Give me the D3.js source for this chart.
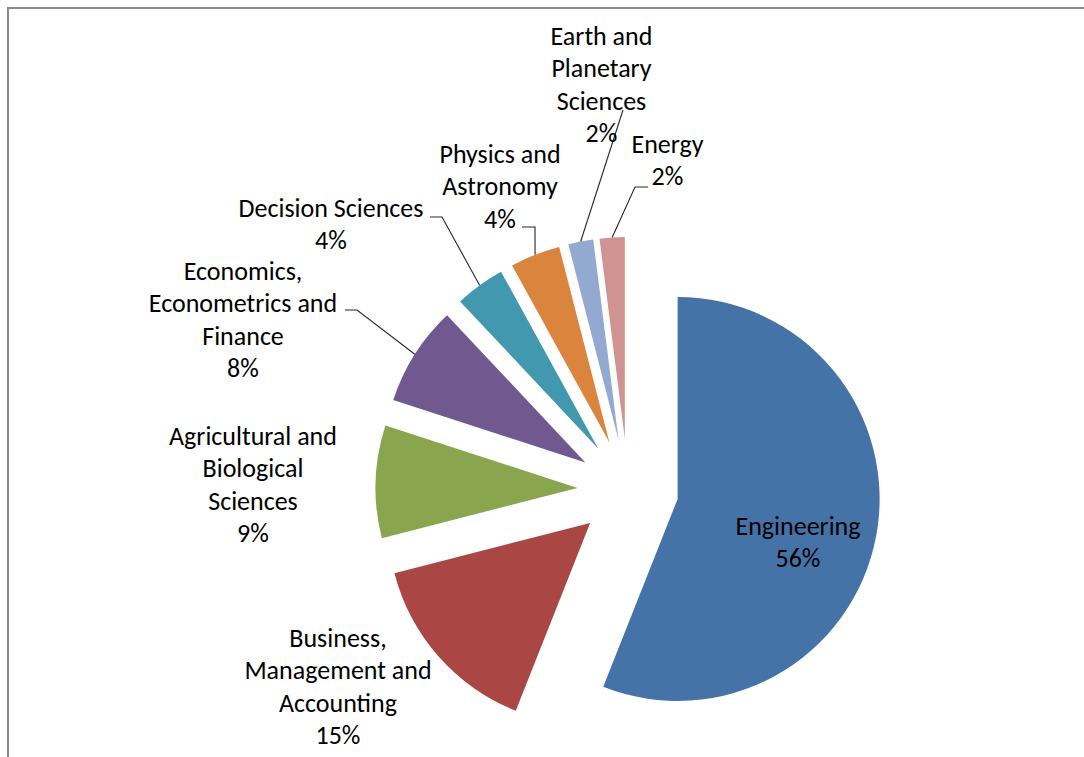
<!DOCTYPE html>
<html>
<head>
<meta charset="utf-8">
<script src="https://cdn.jsdelivr.net/npm/d3@7/dist/d3.min.js"></script>
<style>
  html, body { margin: 0; padding: 0; background: #fff; }
  svg { display: block; }
  text { font-family: Carlito, Calibri, Lato, "Open Sans", sans-serif; fill: #000; }
</style>
</head>
<body>
<svg id="chart" width="1084" height="757"></svg>
<script>
// Subject areas and their share of publications (%)
const categories = [
  "Engineering",
  "Business, Management and Accounting",
  "Agricultural and Biological Sciences",
  "Economics, Econometrics and Finance",
  "Decision Sciences",
  "Physics and Astronomy",
  "Earth and Planetary Sciences",
  "Energy"
];
const shares = [56, 15, 9, 8, 4, 4, 2, 2];

// How each category name is broken over lines in its label
const labelLines = [
  ["Engineering"],
  ["Business,", "Management and", "Accounting"],
  ["Agricultural and", "Biological", "Sciences"],
  ["Economics,", "Econometrics and", "Finance"],
  ["Decision Sciences"],
  ["Physics and", "Astronomy"],
  ["Earth and", "Planetary", "Sciences"],
  ["Energy"]
];

const colors = ["#4572A7", "#AA4643", "#89A54E", "#71588F", "#4198AF", "#DB843D", "#93A9CF", "#D19392"];

// Label placement: centre x and first baseline of each label block
const labelAnchors = [
  [798, 535], [338, 647], [253, 445], [243, 280],
  [331, 217], [500, 163], [601.5, 45], [667.5, 153]
];
// Leader lines: elbow point, then horizontal run to the label edge
const leaders = [
  null, null, null,
  { elbow: [357, 310], end: [345, 310] },
  { elbow: [442, 217], end: [430, 217] },
  { elbow: [535, 227], end: [522, 227] },
  { elbow: [623, 110], end: [623, 110] },
  { elbow: [635, 187], end: [648, 187] }
];

const width = 1084, height = 757;
const cx = 628, cy = 489.5;
const radius = 202;
const explode = 0.25 * radius;
const lineHeight = 32.3;
const fontSize = 26;

const svg = d3.select("#chart");

// Chart frame (only top and left edges are inside the view)
svg.append("path")
  .attr("d", `M8,${height} L8,8 L${width},8`)
  .attr("fill", "none")
  .attr("stroke", "#8a8a8a")
  .attr("stroke-width", 2);

const data = categories.map((c, i) => ({ name: c, share: shares[i], i }));

const pie = d3.pie()
  .sort(null)
  .value(d => d.share)
  .startAngle(0)
  .endAngle(2 * Math.PI);

const arc = d3.arc().innerRadius(0).outerRadius(radius);

const arcs = pie(data);

// Offset of each exploded slice along its bisector
function offset(a, dist) {
  const mid = (a.startAngle + a.endAngle) / 2;
  return [Math.sin(mid) * dist, -Math.cos(mid) * dist];
}

const g = svg.append("g").attr("transform", `translate(${cx},${cy})`);

g.selectAll("path.slice")
  .data(arcs)
  .join("path")
  .attr("class", "slice")
  .attr("transform", d => { const o = offset(d, explode); return `translate(${o[0]},${o[1]})`; })
  .attr("d", arc)
  .attr("fill", d => colors[d.data.i]);

// Leader lines from the middle of each slice's outer edge
const leaderGroup = svg.append("g");
arcs.forEach(a => {
  const L = leaders[a.data.i];
  if (!L) return;
  const o = offset(a, explode);
  const edge = offset(a, radius);
  const start = [cx + o[0] + edge[0], cy + o[1] + edge[1]];
  leaderGroup.append("polyline")
    .attr("points", [start, L.elbow, L.end].map(p => p.join(",")).join(" "))
    .attr("fill", "none")
    .attr("stroke", "#262626")
    .attr("stroke-width", 1.1);
});

// Data labels: category name lines plus the percentage
const labels = svg.append("g");
arcs.forEach(a => {
  const i = a.data.i;
  const lines = labelLines[i].concat([a.data.share + "%"]);
  const [x, y0] = labelAnchors[i];
  const t = labels.append("text")
    .attr("text-anchor", "middle")
    .attr("font-size", fontSize);
  lines.forEach((s, k) => {
    t.append("tspan").attr("x", x).attr("y", y0 + k * lineHeight).text(s);
  });
});
</script>
</body>
</html>
